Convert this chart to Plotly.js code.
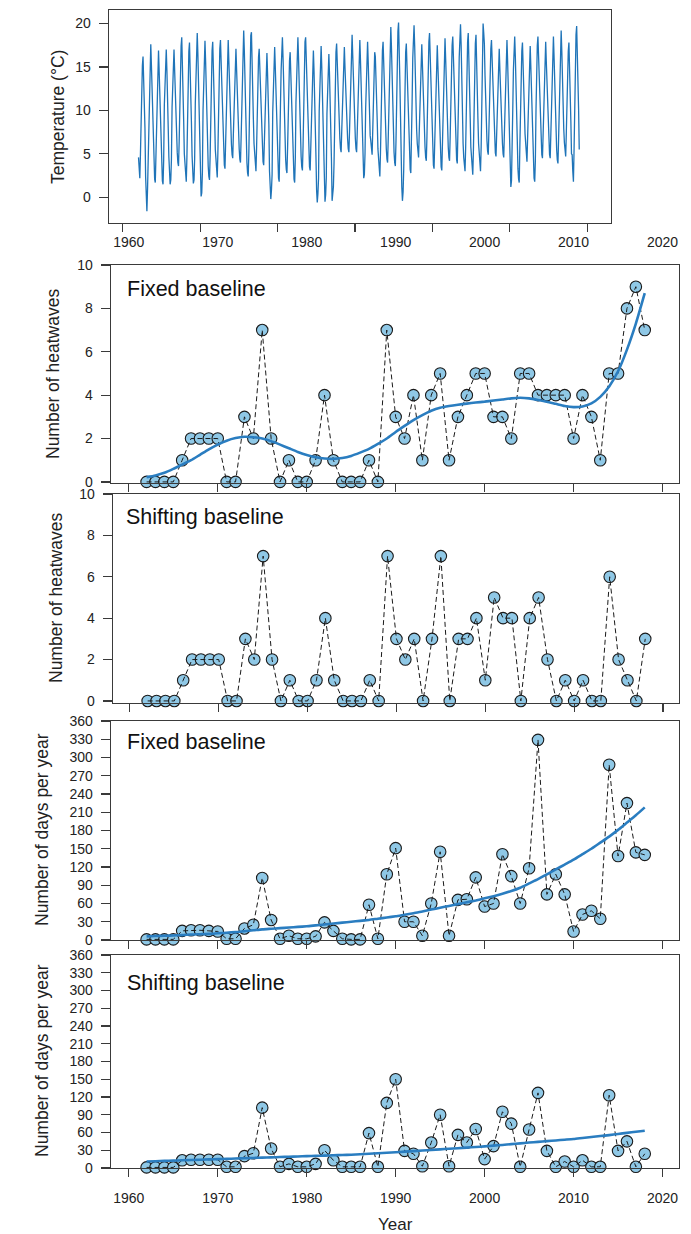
<!DOCTYPE html>
<html>
<head>
<meta charset="utf-8">
<script src="https://cdn.plot.ly/plotly-3.0.1.min.js"></script>
<style>html,body{margin:0;padding:0;background:#fff;}#chart{width:691px;height:1234px;}</style>
</head>
<body>
<div id="chart"></div>
<script>
// ---------- DATA ----------
const tempStartYear = 1962; // monthly series Jan 1962 .. Dec 2018
const tempMonthly = [
4.6,3.0,2.2,5.0,9.8,12.4,15.2,16.2,13.8,11.6,7.9,2.4,
0.2,-1.6,1.0,5.2,9.5,13.8,16.6,17.6,15.2,12.0,8.6,4.9,
3.3,2.1,1.7,4.5,10.2,13.1,15.9,16.9,14.5,11.8,8.4,4.7,
3.1,1.9,1.5,4.3,10.6,13.2,16.0,17.0,14.6,12.3,8.1,4.7,
3.1,1.5,2.0,4.3,10.4,13.2,16.0,17.0,14.6,12.0,8.5,6.8,
5.2,4.0,3.6,6.4,11.0,14.6,17.4,18.4,16.0,12.6,8.8,5.0,
3.4,2.2,1.8,4.6,10.5,14.0,16.8,17.8,15.4,12.4,8.6,4.8,
3.2,1.6,2.0,4.4,10.8,15.1,17.9,18.9,16.5,12.8,8.0,3.3,
1.7,0.1,0.5,2.9,10.0,14.2,17.0,18.0,15.6,12.2,8.9,5.2,
3.6,2.4,2.0,4.8,10.5,14.1,16.9,17.9,15.5,12.5,9.0,5.5,
3.9,2.7,2.3,5.1,10.3,14.3,17.1,18.1,15.7,12.3,9.2,6.5,
4.9,3.7,3.3,6.1,10.8,14.3,17.1,18.1,15.7,12.4,9.3,7.7,
6.1,4.9,4.5,7.3,10.6,13.3,16.1,17.1,14.7,11.9,8.9,7.2,
5.6,4.4,4.0,6.8,10.9,15.4,18.2,19.2,16.8,12.7,8.7,5.6,
4.0,2.8,2.4,5.2,11.2,15.2,18.6,19.0,16.6,12.6,9.0,6.2,
4.6,3.4,3.0,5.8,10.2,13.3,16.1,17.1,14.7,12.1,9.1,6.9,
5.3,4.1,3.7,6.5,10.0,12.8,15.6,16.6,14.2,11.8,8.4,3.0,
1.4,-0.2,0.8,2.6,9.8,13.5,16.3,17.3,14.9,12.1,8.5,5.0,
3.4,2.2,1.8,4.6,10.7,14.6,17.4,18.4,16.0,12.4,8.7,6.0,
4.4,3.2,2.8,5.6,10.1,12.9,15.7,16.7,14.3,11.7,8.2,4.9,
3.3,2.1,1.7,4.5,10.9,14.6,17.4,18.4,16.0,12.6,9.0,6.3,
4.7,3.5,3.1,5.9,10.4,14.6,17.9,18.4,16.0,12.5,9.1,6.3,
4.7,3.5,3.1,5.9,10.0,13.1,15.9,16.9,14.5,12.0,8.6,4.6,
0.8,-0.6,0.4,2.2,9.9,13.6,16.4,17.4,15.0,12.0,7.6,4.0,
1.1,-0.5,0.3,2.3,9.6,12.7,15.5,16.5,14.1,11.6,8.2,4.4,
-0.4,0.8,1.2,3.9,9.9,13.9,16.7,17.7,15.3,12.1,9.0,7.4,
6.8,5.6,5.2,7.8,10.8,13.5,16.3,17.3,14.9,12.3,9.4,7.6,
6.8,5.6,5.2,7.6,11.3,14.9,17.7,18.7,16.3,13.0,9.6,7.5,
6.8,5.6,5.2,7.6,11.2,14.3,17.1,18.1,15.7,12.9,9.0,5.4,
3.8,2.2,2.6,5.0,10.2,14.1,16.9,17.9,15.5,12.3,9.0,7.1,
6.5,5.3,4.9,7.7,11.0,13.4,16.7,16.2,14.3,11.0,8.6,5.6,
4.0,2.8,2.4,5.2,10.5,14.1,16.9,17.9,15.5,11.8,8.6,6.9,
5.6,4.4,4.0,6.8,10.6,15.8,18.6,19.6,17.2,13.0,10.2,7.3,
5.2,4.0,3.6,6.4,11.0,16.3,19.1,20.1,17.7,13.5,9.4,3.6,
1.2,-0.4,0.6,3.2,9.5,13.9,16.7,17.7,15.3,12.4,8.5,5.4,
4.4,3.2,2.8,5.6,11.0,16.0,18.8,19.8,17.4,13.1,9.9,7.8,
6.2,5.0,4.6,7.4,10.9,13.8,16.6,17.6,15.2,12.5,9.3,7.4,
5.8,4.6,4.2,7.0,11.3,15.1,17.9,18.9,16.5,12.8,9.6,6.5,
4.9,3.7,3.3,6.1,11.0,13.7,16.5,17.5,15.1,12.2,9.1,6.3,
4.7,3.5,3.1,5.9,10.9,14.5,17.3,18.3,15.9,13.2,9.5,7.4,
5.8,4.6,4.2,7.0,11.1,14.7,17.5,18.5,16.1,12.7,9.6,7.1,
5.5,4.3,3.9,6.7,11.4,16.1,18.9,19.9,17.5,12.9,9.5,6.2,
4.6,3.4,3.0,5.8,11.2,15.1,17.9,18.9,16.5,12.6,9.2,5.8,
4.2,3.0,2.6,5.4,10.8,14.9,17.7,18.7,16.3,13.3,9.0,6.2,
4.6,3.4,3.0,5.8,11.3,16.2,20.0,18.9,17.6,14.0,10.5,8.1,
6.5,5.3,4.9,7.7,11.5,14.3,17.1,18.1,15.7,12.6,9.6,7.9,
6.3,5.1,4.7,7.5,11.2,13.3,16.1,17.1,14.7,12.0,9.2,7.8,
6.2,5.0,4.6,7.4,11.0,14.3,17.1,18.1,15.7,12.6,9.3,4.4,
2.4,1.2,1.9,4.6,10.2,14.7,17.5,18.5,16.1,12.3,8.0,3.3,
3.3,2.1,1.7,6.0,11.2,14.0,16.8,17.8,15.9,13.1,10.0,7.3,
5.7,4.5,4.1,6.9,10.2,13.6,16.4,17.4,15.0,11.9,8.6,5.0,
3.4,2.2,1.8,4.2,10.1,14.7,17.5,18.5,16.1,13.0,9.4,7.7,
6.1,4.9,4.5,7.3,11.6,14.1,16.9,17.9,15.5,13.3,10.0,7.7,
6.1,4.9,4.5,7.3,10.6,14.7,17.5,18.5,16.1,12.7,10.3,7.1,
5.5,4.3,3.9,6.7,11.0,15.4,18.2,19.2,16.8,12.9,9.0,7.9,
6.3,5.1,4.7,7.5,11.4,14.0,16.8,17.8,15.4,13.0,8.8,5.0,
4.9,3.0,1.8,5.6,11.2,15.9,18.7,19.7,17.3,13.4,10.2,5.5
];

const years = [1962,1963,1964,1965,1966,1967,1968,1969,1970,1971,1972,1973,1974,1975,1976,1977,1978,1979,1980,
  1981,1982,1983,1984,1985,1986,1987,1988,1989,1990,1991,1992,1993,1994,1995,1996,1997,1998,1999,2000,
  2001,2002,2003,2004,2005,2006,2007,2008,2009,2010,2011,2012,2013,2014,2015,2016,2017,2018];

const fixedCount = [0,0,0,0,1,2,2,2,2,0,0,3,2,7,2,0,1,0,0,1,4,1,0,0,0,1,0,7,3,2,4,1,4,5,1,3,4,5,5,3,3,2,5,5,4,4,4,4,2,4,3,1,5,5,8,9,7];
const fixedCountSmooth = [0.22,0.3,0.42,0.6,0.8,1.0,1.25,1.5,1.72,1.9,2.02,2.08,2.06,2.0,1.88,1.72,1.55,1.38,1.24,1.14,1.08,1.06,1.1,1.2,1.35,1.52,1.75,2.0,2.3,2.58,2.85,3.08,3.28,3.42,3.5,3.56,3.61,3.66,3.7,3.75,3.8,3.85,3.88,3.85,3.78,3.7,3.6,3.5,3.45,3.48,3.62,3.92,4.4,5.1,6.1,7.3,8.7];

const shiftCount = [0,0,0,0,1,2,2,2,2,0,0,3,2,7,2,0,1,0,0,1,4,1,0,0,0,1,0,7,3,2,3,0,3,7,0,3,3,4,1,5,4,4,0,4,5,2,0,1,0,1,0,0,6,2,1,0,3];

const fixedDays = [1,1,1,1,15,16,16,15,14,2,2,19,25,102,33,2,7,2,2,6,29,15,2,1,1,58,2,108,151,30,30,7,60,145,7,66,67,103,55,60,141,105,60,118,329,75,108,75,14,42,48,35,288,138,225,144,140];
const fixedDaysSmooth = [6,6.5,7,7.5,8,9,9.5,10,11,12,13,14.5,16,17.5,18.5,19.5,20.5,21.5,22.5,24,25.5,27,28.5,30,31.5,33,35,37,39,41.5,44,47,50,53,56,59,62,65,68.5,72,76,80.5,86,93,100,108,116,124,132,141,150,160,170,181,193,205,218];

const shiftDays = [1,1,1,1,13,14,14,14,14,2,2,20,25,102,33,2,7,2,2,7,30,13,2,2,2,59,2,110,150,29,24,3,43,90,3,56,43,66,15,37,95,75,2,65,127,29,2,11,2,13,2,2,123,29,45,2,24];
const shiftDaysSmooth = [11,11.5,12,12.5,13,13.5,14,14.5,15,15.5,16,16.5,17,17.5,18,18.5,19,19.5,20,20.5,21,21.5,22,22.5,23.3,24.1,24.9,25.8,26.7,27.6,28.5,29.5,30.5,31.5,32.5,33.5,34.5,35.5,36.6,37.8,39,40.3,41.6,43,44.2,45.4,46.6,47.8,49,50.8,52.5,54,55.6,57.5,59.4,61.2,63];

const decadeTicks = [1960,1970,1980,1990,2000,2010,2020];
const decadeLabels = ['1960','1970','1980','1990','2000','2010','2020'];
const tempTicks = [0,5,10,15,20];
const countTicks = [0,2,4,6,8,10];
const dayTicks = [0,30,60,90,120,150,180,210,240,270,300,330,360];

// ---------- STYLE ----------
const W = 691, H = 1234;
const FONT = '"Liberation Sans", Arial, sans-serif';
const frame = '#3a3a3a';
const fillBlue = '#8fc8e6';
const lineBlue = '#2a7dc0';
const tempBlue = '#1f74b8';

const tempTime = tempMonthly.map((v, i) => tempStartYear + (i + 0.5) / 12);

function px(x){ return x / W; }
function py(y){ return 1 - y / H; }

function countTraces(xa, ya, yvals){
  return [
    {x: years, y: yvals, xaxis: xa, yaxis: ya, type: 'scatter', mode: 'markers', cliponaxis: false,
     marker: {size: 11.5, color: fillBlue, line: {color: '#1a1a1a', width: 1.1}}, hoverinfo: 'skip'},
    {x: years, y: yvals, xaxis: xa, yaxis: ya, type: 'scatter', mode: 'lines',
     line: {color: '#1a1a1a', width: 1, dash: '5px,3px'}, hoverinfo: 'skip'}
  ];
}
function smoothTrace(xa, ya, yvals){
  return {x: years, y: yvals, xaxis: xa, yaxis: ya, type: 'scatter', mode: 'lines',
    line: {color: lineBlue, width: 2.6, shape: 'spline', smoothing: 0.6}, hoverinfo: 'skip'};
}

const traces = [
  {x: tempTime, y: tempMonthly, xaxis: 'x', yaxis: 'y', type: 'scatter', mode: 'lines',
   line: {color: tempBlue, width: 1.3}, hoverinfo: 'skip'},
  ...countTraces('x2', 'y2', fixedCount),
  smoothTrace('x6', 'y2', fixedCountSmooth),
  ...countTraces('x3', 'y3', shiftCount),
  ...countTraces('x4', 'y4', fixedDays),
  smoothTrace('x4', 'y4', fixedDaysSmooth),
  ...countTraces('x5', 'y5', shiftDays),
  smoothTrace('x5', 'y5', shiftDaysSmooth)
];

const tickFont = {family: FONT, size: 14, color: '#222'};
function xAx(dom, range, anchor, labels){
  return {domain: dom, range: range, anchor: anchor, tickvals: decadeTicks, ticktext: decadeLabels,
    showticklabels: labels, ticks: 'outside', ticklen: 8, tickwidth: 1.2, tickcolor: frame,
    showline: true, mirror: true, linecolor: frame, linewidth: 1.4, showgrid: false, zeroline: false,
    tickfont: tickFont, ticklabelstandoff: 9};
}
function yAx(dom, range, anchor, vals){
  return {domain: dom, range: range, anchor: anchor, tickvals: vals, ticktext: vals.map(String),
    ticks: 'outside', ticklen: 9, tickwidth: 1.2, tickcolor: frame,
    showline: true, mirror: true, linecolor: frame, linewidth: 1.4, showgrid: false, zeroline: false,
    tickfont: tickFont, ticklabelstandoff: 5};
}

const xrange2 = [1958.0, 2021.85];
const layout = {
  width: W, height: H,
  margin: {l: 0, r: 0, t: 0, b: 0},
  paper_bgcolor: '#fff', plot_bgcolor: '#fff',
  showlegend: false,
  font: {family: FONT, color: '#222'},
  xaxis: xAx([px(109), px(611)], [1958.23, 2023.06], 'y', false),
  yaxis: yAx([py(223), py(10)], [-2.95, 21.55], 'x', tempTicks),
  xaxis2: xAx([px(111), px(679)], xrange2, 'y2', false),
  yaxis2: yAx([py(483), py(265)], [-0.05, 10], 'x2', countTicks),
  xaxis6: {overlaying: 'x2', side: 'top', anchor: 'y2', range: xrange2, tickvals: decadeTicks, ticktext: decadeLabels,
    showticklabels: true, ticks: '', showline: false, showgrid: false, zeroline: false, tickfont: tickFont, ticklabelstandoff: 14},
  xaxis3: xAx([px(113), px(679)], [1958.1, 2021.8], 'y3', false),
  yaxis3: yAx([py(703), py(494)], [-0.1, 10], 'x3', countTicks),
  xaxis4: xAx([px(111), px(679)], xrange2, 'y4', false),
  yaxis4: yAx([py(940), py(721)], [0, 360], 'x4', dayTicks),
  xaxis5: xAx([px(111), px(679)], xrange2, 'y5', true),
  yaxis5: yAx([py(1168), py(955)], [0, 360], 'x5', dayTicks),
  annotations: [
    {text: 'Fixed baseline', x: px(125), y: py(289), xanchor: 'left', yanchor: 'middle'},
    {text: 'Shifting baseline', x: px(124), y: py(517), xanchor: 'left', yanchor: 'middle'},
    {text: 'Fixed baseline', x: px(125), y: py(742), xanchor: 'left', yanchor: 'middle'},
    {text: 'Shifting baseline', x: px(125), y: py(983), xanchor: 'left', yanchor: 'middle'}
  ].map(a => Object.assign(a, {xref: 'paper', yref: 'paper', showarrow: false,
      font: {family: FONT, size: 21.5, color: '#111'}})).concat([
    {text: 'Temperature (°C)', x: px(58), y: py(117)},
    {text: 'Number of heatwaves', x: px(53), y: py(374)},
    {text: 'Number of heatwaves', x: px(56), y: py(598)},
    {text: 'Number of days per year', x: px(42), y: py(830)},
    {text: 'Number of days per year', x: px(42), y: py(1061)}
  ].map(a => Object.assign(a, {xref: 'paper', yref: 'paper', showarrow: false, textangle: -90,
      xanchor: 'center', yanchor: 'middle', font: {family: FONT, size: 17.5, color: '#222'}}))).concat([
    {text: 'Year', x: px(395), y: py(1224), xref: 'paper', yref: 'paper', showarrow: false,
     xanchor: 'center', yanchor: 'middle', font: {family: FONT, size: 17, color: '#222'}}
  ])
};

Plotly.newPlot('chart', traces, layout, {staticPlot: true, displayModeBar: false});
</script>
</body>
</html>
